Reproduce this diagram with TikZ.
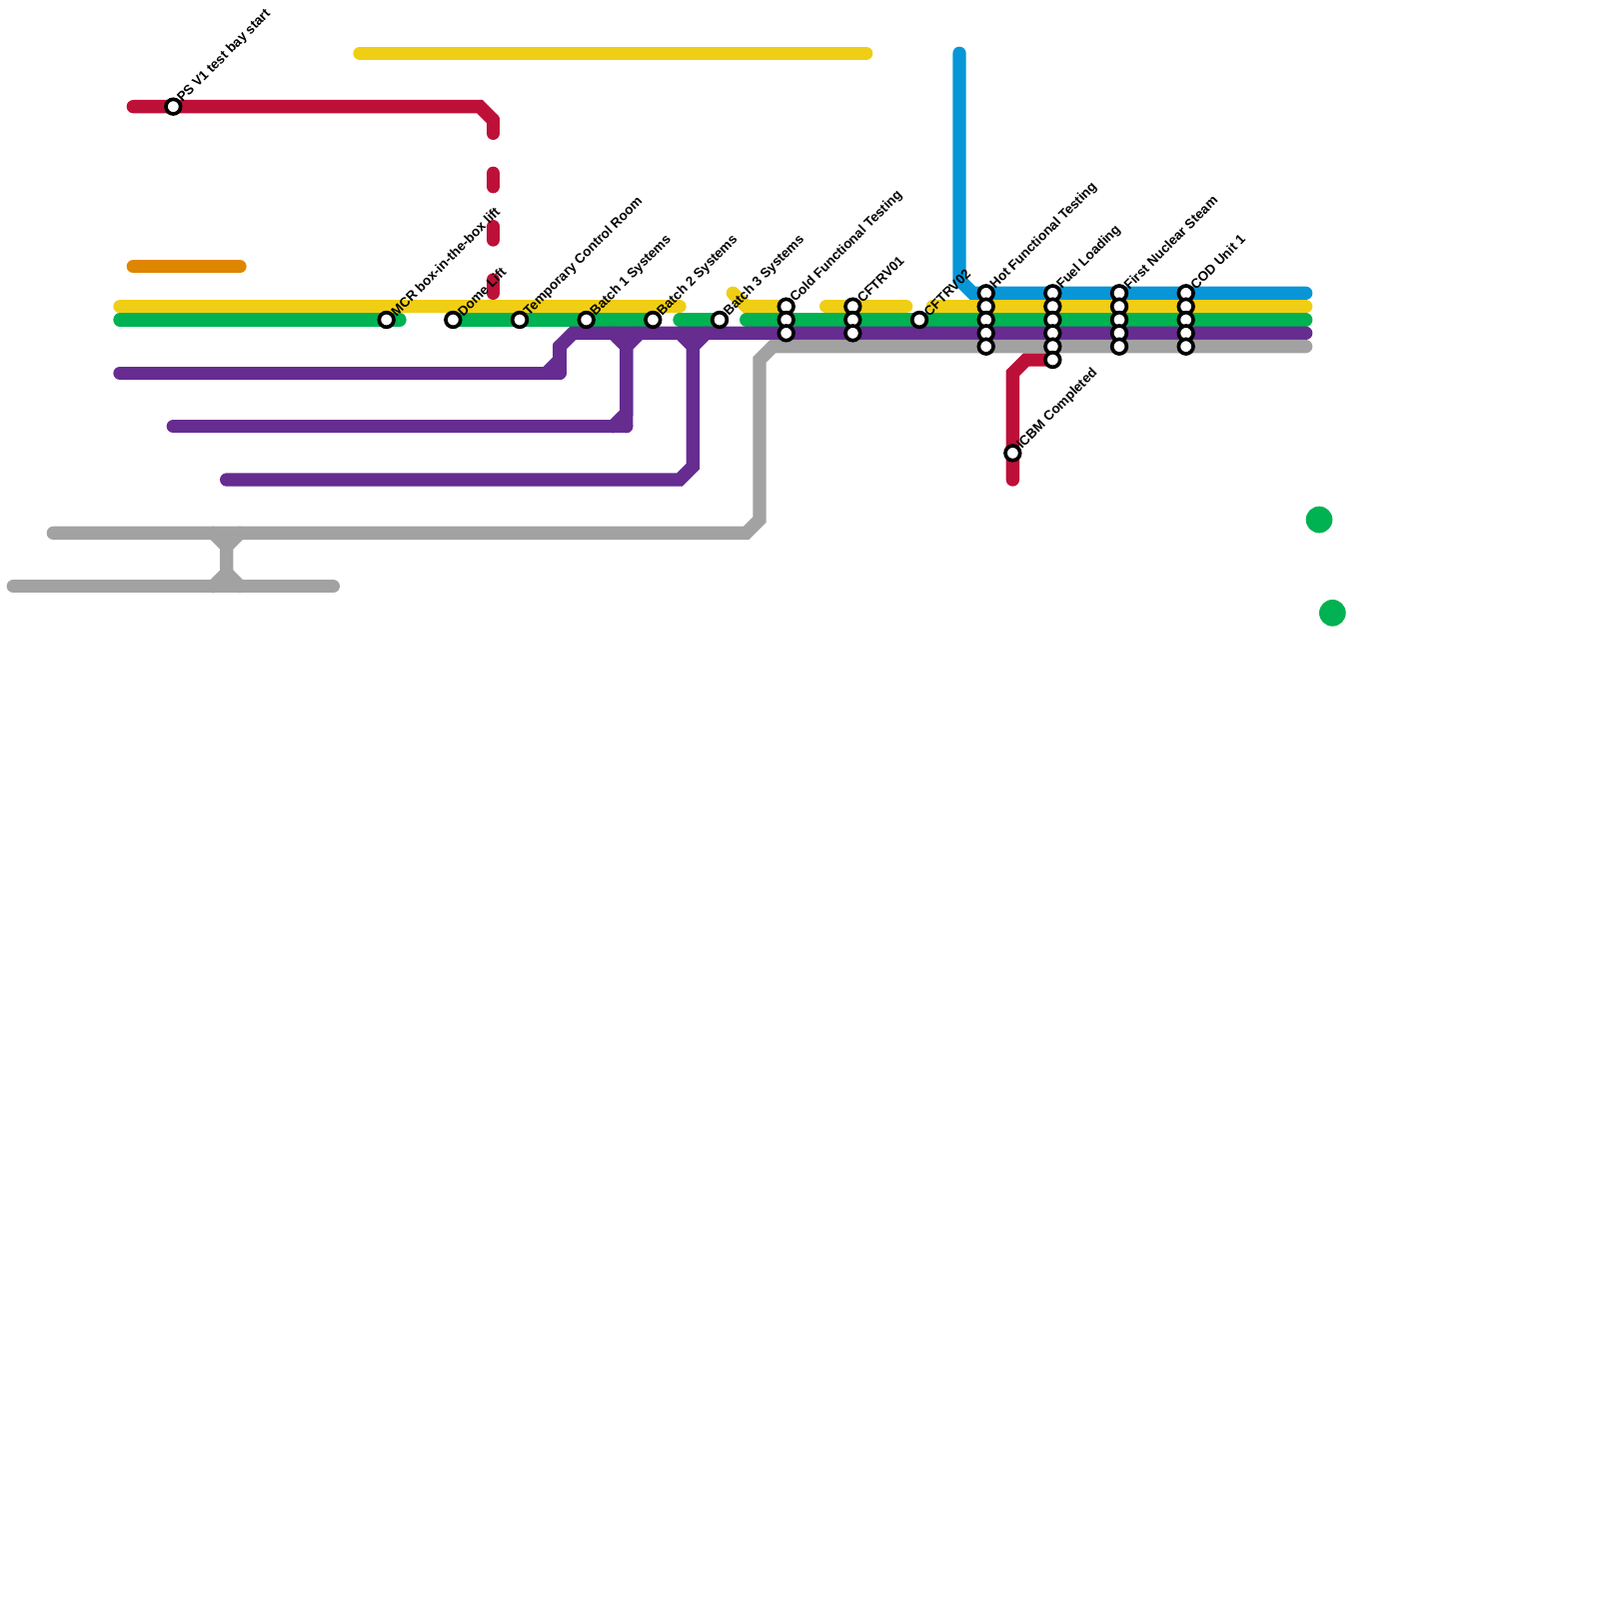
\documentclass[tikz,border=0pt]{standalone}
\usepackage{fontspec}
\setmainfont{Liberation Sans}
\usepackage{color, xcolor}
\usepackage{tikz}
\usetikzlibrary{backgrounds}
\definecolor{lred}{HTML}{BD1038}
\definecolor{lyellow}{HTML}{F0CE15}
\definecolor{lgreen}{HTML}{00B251}
\definecolor{lpurple}{HTML}{662C90}
\definecolor{lblue}{HTML}{0896D7}
\definecolor{lgrey}{HTML}{A2A2A2}
\definecolor{lorange}{HTML}{DF8600}
\tikzstyle{metro} = [line width=2mm,line cap=round]
\tikzstyle{station} = [circle,draw=black,fill=white,line width=0.55mm,inner sep=0pt,minimum size=2.2mm]
\tikzstyle{stationlabel} = [rotate=45,anchor=west,inner sep=0pt,font=\fontsize{5.72}{6}\selectfont\bfseries]
\tikzstyle{dot} = [circle,fill=lgreen,inner sep=0pt,minimum size=4mm]

\begin{document}
\begin{tikzpicture}[x=2mm,y=-2mm,label distance=-0.1mm]
    \useasboundingbox (0,0) rectangle (120,120);

    % Stations
    \node[station,label={[stationlabel]45:PS V1 test bay start}] (psv) at (13,8) {};
    \node[station,label={[stationlabel]45:MCR box-in-the-box lift}] (mcr) at (29,24) {};
    \node[station,label={[stationlabel]45:Dome Lift}] (dome) at (34,24) {};
    \node[station,label={[stationlabel]45:Temporary Control Room}] (tcr) at (39,24) {};
    \node[station,label={[stationlabel]45:Batch 1 Systems}] (batchone) at (44,24) {};
    \node[station,label={[stationlabel]45:Batch 2 Systems}] (batchtwo) at (49,24) {};
    \node[station,label={[stationlabel]45:Batch 3 Systems}] (batchthree) at (54,24) {};
    \node[station,label={[stationlabel]45:Cold Functional Testing}] (cold) at (59,23) {};
    \node[station,label={[stationlabel]45:CFTRV01}] (cftone) at (64,23) {};
    \node[station,label={[stationlabel]45:CFTRV02}] (cfttwo) at (69,24) {};
    \node[station,label={[stationlabel]45:Hot Functional Testing}] (hot) at (74,22) {};
    \node[station,label={[stationlabel]45:Fuel Loading}] (fuel) at (79,22) {};
    \node[station,label={[stationlabel]45:First Nuclear Steam}] (steam) at (84,22) {};
    \node[station,label={[stationlabel]45:COD Unit 1}] (cod) at (89,22) {};
    \node[station,label={[stationlabel]45:ICBM Completed}] (icbm) at (76,34) {};
    \foreach \row in {24,25} {
        \node[station] (cold\row) at (59,\row) {};
        \node[station] (cftone\row) at (64,\row) {};
    }
    \foreach \row in {23,24,25,26} {
        \node[station] (hot\row) at (74,\row) {};
        \node[station] (steam\row) at (84,\row) {};
        \node[station] (cod\row) at (89,\row) {};
    }
    \foreach \row in {23,24,25,26,27} \node[station] (fuel\row) at (79,\row) {};

    \node[dot] (dotone) at (99,39) {};
    \node[dot] (dottwo) at (100,46) {};

    % Line ends and bends
    \coordinate (topa) at (27,4);
    \coordinate (topb) at (65,4);
    \coordinate (orangea) at (10,20);
    \coordinate (orangeb) at (18,20);
    \coordinate (reda) at (10,8);
    \coordinate (redb) at (36,8);
    \coordinate (redc) at (37,9);
    \coordinate (redd) at (37,22);
    \coordinate (rede) at (76,36);
    \coordinate (redf) at (76,28);
    \coordinate (redg) at (77,27);
    \coordinate (yellowa) at (9,23);
    \coordinate (yellowb) at (51,23);
    \coordinate (yellowc) at (55,22);
    \coordinate (yellowd) at (56,23);
    \coordinate (yellowe) at (62,23);
    \coordinate (yellowf) at (68,23);
    \coordinate (yellowg) at (70,23);
    \coordinate (yellowh) at (98,23);
    \coordinate (greena) at (9,24);
    \coordinate (greenb) at (30,24);
    \coordinate (greenc) at (51,24);
    \coordinate (greend) at (56,24);
    \coordinate (greene) at (98,24);
    \coordinate (bluea) at (72,4);
    \coordinate (blueb) at (72,21);
    \coordinate (bluec) at (73,22);
    \coordinate (blued) at (98,22);
    \coordinate (purplea) at (9,28);
    \coordinate (purpleb) at (42,28);
    \coordinate (purplec) at (41,28);
    \coordinate (purpled) at (42,27);
    \coordinate (purplee) at (42,26);
    \coordinate (purplef) at (43,25);
    \coordinate (purpleg) at (98,25);
    \coordinate (purpleh) at (13,32);
    \coordinate (purplei) at (47,32);
    \coordinate (purplej) at (46,32);
    \coordinate (purplek) at (47,31);
    \coordinate (purplel) at (47,26);
    \coordinate (purplem) at (46,25);
    \coordinate (purplen) at (48,25);
    \coordinate (purpleo) at (17,36);
    \coordinate (purplep) at (51,36);
    \coordinate (purpleq) at (52,35);
    \coordinate (purpler) at (52,26);
    \coordinate (purples) at (51,25);
    \coordinate (purplet) at (53,25);
    \coordinate (greya) at (4,40);
    \coordinate (greyb) at (56,40);
    \coordinate (greyc) at (57,39);
    \coordinate (greyd) at (57,27);
    \coordinate (greye) at (58,26);
    \coordinate (greyf) at (98,26);
    \coordinate (greyg) at (1,44);
    \coordinate (greyh) at (25,44);
    \coordinate (crossa) at (16,40);
    \coordinate (crossb) at (18,40);
    \coordinate (crossc) at (17,41);
    \coordinate (crossd) at (17,43);
    \coordinate (crosse) at (16,44);
    \coordinate (crossf) at (18,44);

    % Edges
    \begin{pgfonlayer}{background}
    \draw[metro,lyellow] (topa) -- (topb);
    \draw[metro,lorange] (orangea) -- (orangeb);

    \draw[metro,lred] (reda) -- (psv.center) -- (redb) -- (redc);
    \draw[metro,lred,dash pattern=on 2mm off 6mm] (redc) -- (redd);
    \draw[metro,lred] (rede) -- (icbm.center) -- (redf) -- (redg) -- (fuel27.center);

    \draw[metro,lyellow] (yellowa) -- (yellowb);
    \draw[metro,lyellow] (yellowc) -- (yellowd) -- (cold.center);
    \draw[metro,lyellow] (yellowe) -- (yellowf);
    \draw[metro,lyellow] (yellowg) -- (yellowh);

    \draw[metro,lgreen] (greena) -- (greenb);
    \draw[metro,lgreen] (dome.center) -- (batchtwo.center);
    \draw[metro,lgreen] (greenc) -- (batchthree.center);
    \draw[metro,lgreen] (greend) -- (greene);

    \draw[metro,lblue] (bluea) -- (blueb) -- (bluec) -- (blued);

    \draw[metro,lpurple] (purplea) -- (purpleb);
    \draw[metro,lpurple] (purplec) -- (purpled) -- (purplee) -- (purplef) -- (purpleg);
    \draw[metro,lpurple] (purpleb) -- (purplee);
    \draw[metro,lpurple] (purpleh) -- (purplei);
    \draw[metro,lpurple] (purplej) -- (purplek) -- (purplel) -- (purplem);
    \draw[metro,lpurple] (purplei) -- (purplel) -- (purplen);
    \draw[metro,lpurple] (purpleo) -- (purplep) -- (purpleq) -- (purpler) -- (purples);
    \draw[metro,lpurple] (purpler) -- (purplet);

    \draw[metro,lgrey] (greya) -- (greyb) -- (greyc) -- (greyd) -- (greye) -- (greyf);
    \draw[metro,lgrey] (greyg) -- (greyh);
    \draw[metro,lgrey] (crossa) -- (crossc) -- (crossd) -- (crosse);
    \draw[metro,lgrey] (crossb) -- (crossc);
    \draw[metro,lgrey] (crossd) -- (crossf);
    \end{pgfonlayer}
\end{tikzpicture}
\end{document}
